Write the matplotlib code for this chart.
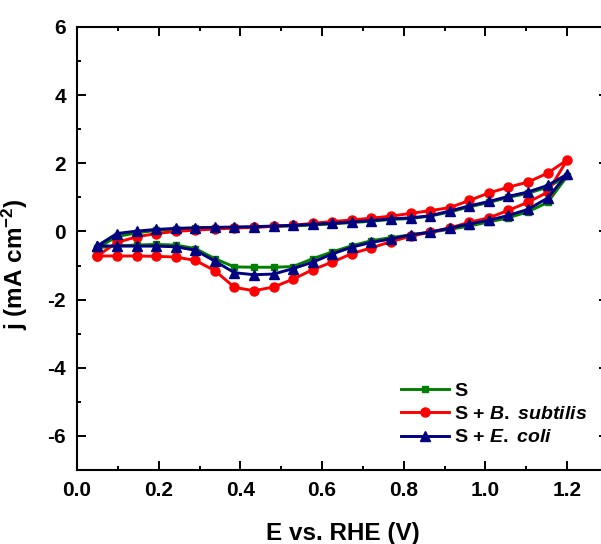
import numpy as np
import matplotlib
matplotlib.use("Agg")
import matplotlib.pyplot as plt

plt.rcParams["font.family"] = ["Liberation Sans", "DejaVu Sans"]
plt.rcParams["font.weight"] = "bold"
plt.rcParams["mathtext.fontset"] = "custom"
plt.rcParams["mathtext.rm"] = "Liberation Sans:bold"
plt.rcParams["mathtext.it"] = "Liberation Sans:italic:bold"
plt.rcParams["mathtext.bf"] = "Liberation Sans:bold"

# Potential at the marked points of each sweep (V vs. RHE)
potential = np.linspace(0.05, 1.2, 25)

# Current density (mA cm^-2): forward sweep 0.05 -> 1.2 V
s_forward = [-0.48, -0.15, -0.04, 0.03, 0.07, 0.09, 0.11, 0.12, 0.13, 0.15,
             0.16, 0.19, 0.22, 0.26, 0.30, 0.35, 0.38, 0.45, 0.57, 0.72,
             0.85, 1.00, 1.12, 1.30, 1.62]
bs_forward = [-0.72, -0.32, -0.16, -0.06, 0.00, 0.04, 0.07, 0.10, 0.12, 0.15,
              0.18, 0.24, 0.29, 0.34, 0.39, 0.45, 0.53, 0.61, 0.70, 0.91,
              1.13, 1.30, 1.45, 1.71, 2.10]
ec_forward = [-0.42, -0.06, 0.01, 0.06, 0.09, 0.11, 0.12, 0.13, 0.14, 0.16,
              0.18, 0.21, 0.24, 0.28, 0.32, 0.37, 0.40, 0.46, 0.60, 0.75,
              0.88, 1.03, 1.16, 1.35, 1.68]

# Current density (mA cm^-2): reverse sweep, listed at the same potentials
s_reverse = [-0.48, -0.42, -0.40, -0.38, -0.40, -0.50, -0.80, -1.04, -1.05, -1.05,
             -1.03, -0.80, -0.60, -0.42, -0.27, -0.18, -0.10, -0.02, 0.06, 0.16,
             0.28, 0.40, 0.58, 0.85, 1.62]
bs_reverse = [-0.72, -0.72, -0.72, -0.73, -0.75, -0.85, -1.15, -1.64, -1.74, -1.63,
              -1.40, -1.12, -0.90, -0.65, -0.48, -0.30, -0.14, -0.02, 0.10, 0.27,
              0.40, 0.62, 0.86, 1.15, 2.10]
ec_reverse = [-0.42, -0.43, -0.43, -0.43, -0.45, -0.55, -0.87, -1.21, -1.27, -1.25,
              -1.09, -0.90, -0.66, -0.46, -0.32, -0.22, -0.10, -0.02, 0.10, 0.22,
              0.33, 0.47, 0.65, 0.98, 1.68]

series = [
    ("S", s_forward, s_reverse, "#008000", "s", 5.0),
    (r"S + $\mathit{B.}$ $\mathit{subtilis}$", bs_forward, bs_reverse, "#ff0000", "o", 6.5),
    (r"S + $\mathit{E.}$ $\mathit{coli}$", ec_forward, ec_reverse, "#000080", "^", 7.0),
]

x_ticks = [0.0, 0.2, 0.4, 0.6, 0.8, 1.0, 1.2]
y_ticks = [-6, -4, -2, 0, 2, 4, 6]

fig = plt.figure(figsize=(6.01, 5.44), dpi=100)
ax = fig.add_axes([77 / 601, 74 / 544, 531 / 601, 443 / 544])

for label, fwd, rev, color, marker, ms in series:
    x = np.concatenate([potential, potential[::-1][1:]])
    y = np.concatenate([fwd, rev[::-1][1:]])
    ax.plot(x, y, color=color, lw=2.1, marker=marker, ms=ms,
            markeredgecolor=color, label=label, clip_on=False)

ax.set_xlim(0, 1.3)
ax.set_ylim(-7, 6)
ax.set_xticks(x_ticks)
ax.set_xticks(np.arange(0.1, 1.3, 0.2), minor=True)
ax.set_yticks(y_ticks)
ax.set_yticks(np.arange(-5, 6, 2), minor=True)
ax.set_xticklabels([f"{v:.1f}" for v in x_ticks])
ax.set_yticklabels([str(v) for v in y_ticks])

for sp in ax.spines.values():
    sp.set_linewidth(1.5)
ax.tick_params(which="both", direction="in", top=True, right=True,
               labelsize=15, width=1.4)
ax.tick_params(which="major", length=6.5, pad=8)
ax.tick_params(which="minor", length=3.2)

ax.set_xlabel("E vs. RHE (V)", fontsize=17.5, fontweight="bold", labelpad=16)
ax.set_ylabel(r"j (mA cm$^{\mathbf{-2}}$)", fontsize=17.5, fontweight="bold")
ax.yaxis.set_label_coords(-0.088, 0.465)

leg = ax.legend(loc="upper left", bbox_to_anchor=(401 / 601, 1 - 382 / 544),
                bbox_transform=fig.transFigure, frameon=False, fontsize=14,
                handlelength=2.45, handletextpad=0.3, labelspacing=0.3,
                borderpad=0, borderaxespad=0)

fig.savefig("out.png", dpi=100)
